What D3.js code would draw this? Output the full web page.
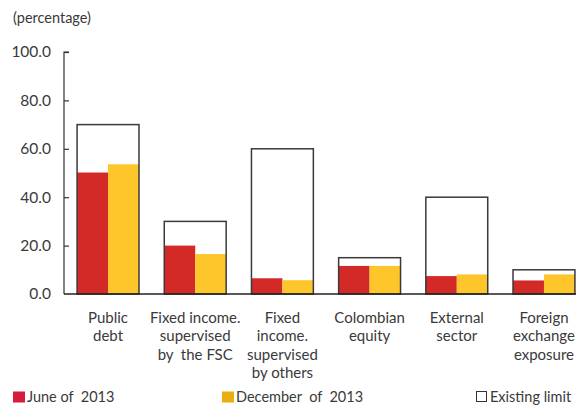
<!DOCTYPE html>
<html><head><meta charset="utf-8">
<script src="https://cdn.jsdelivr.net/npm/d3@7"></script>
<style>body{margin:0;background:#fff}svg{display:block}text{font-family:Lato,"Open Sans",sans-serif;fill:#3a3a3a;white-space:pre}</style>
</head><body><svg id="c" width="576" height="406"></svg>
<script>
const categories = [["Public","debt"],["Fixed income.","supervised","by  the FSC"],["Fixed","income.","supervised","by others"],["Colombian","equity"],["External","sector"],["Foreign","exchange","exposure"]];
const june2013 = [50.2, 20.0, 6.5, 11.6, 7.4, 5.6];
const dec2013 = [53.6, 16.5, 5.7, 11.6, 8.1, 8.1];
const limits = [70, 30, 60, 15, 40, 10];
const yTicks = [0, 20, 40, 60, 80, 100];
const seriesNames = ["June of  2013", "December  of  2013", "Existing limit"];

const svg = d3.select("#c");
const x = d3.scaleBand().domain(d3.range(categories.length)).range([64, 588]).paddingInner(0.29).paddingOuter(0.15);
const y = d3.scaleLinear().domain([0, 100]).range([294, 52]);
const half = x.bandwidth() / 2;

const g = svg.append("g");
g.selectAll(".r").data(june2013).join("rect")
  .attr("x", (d, i) => x(i)).attr("width", half)
  .attr("y", d => y(d)).attr("height", d => y(0) - y(d)).attr("fill", "#D42A27");
g.selectAll(".yb").data(dec2013).join("rect")
  .attr("x", (d, i) => x(i) + half).attr("width", half)
  .attr("y", d => y(d)).attr("height", d => y(0) - y(d)).attr("fill", "#FEC62B");
g.selectAll(".l").data(limits).join("rect")
  .attr("x", (d, i) => x(i)).attr("width", x.bandwidth())
  .attr("y", d => y(d)).attr("height", d => y(0) - y(d))
  .attr("fill", "none").attr("stroke", "#3a3a3a").attr("stroke-width", 1.5);

const yAxis = d3.axisRight(y).tickValues(yTicks).tickSize(5).tickFormat(d3.format(".1f"));
const ya = svg.append("g").attr("transform", "translate(64,0)").call(yAxis);
ya.select(".domain").attr("stroke", "#333").attr("stroke-width", 1.2).attr("d", "M5,52H0V294");
ya.selectAll(".tick line").attr("stroke", "#333").attr("stroke-width", 1.2);
ya.selectAll(".tick text").attr("x", -13).attr("text-anchor", "end").attr("font-size", 15.5).attr("fill", "#3a3a3a").attr("font-family", "Lato, sans-serif");
ya.selectAll(".tick").filter(d => d === 0).select("line").remove();

svg.append("line").attr("x1", 64).attr("x2", 576).attr("y1", y(0)).attr("y2", y(0)).attr("stroke", "#222").attr("stroke-width", 1.5);

svg.append("text").attr("x", 13).attr("y", 23).attr("font-size", 14.5).text("(percentage)");

categories.forEach((lines, i) => {
  const t = svg.append("text").attr("text-anchor", "middle").attr("font-size", 15);
  lines.forEach((ln, j) => {
    t.append("tspan").attr("x", x(i) + x.bandwidth() / 2).attr("y", 323 + j * 18.4).text(ln);
  });
});

const leg = [{x: 13, fill: "#D51E3A", stroke: "none"}, {x: 222, fill: "#E9AE0F", stroke: "none"}, {x: 476, fill: "#fff", stroke: "#333"}];
leg.forEach((l, i) => {
  svg.append("rect").attr("x", l.x + (i === 2 ? 0.5 : 0)).attr("y", 391.5).attr("width", i === 2 ? 10 : 12).attr("height", i === 2 ? 10 : 11)
    .attr("fill", l.fill).attr("stroke", l.stroke).attr("stroke-width", 1);
  svg.append("text").attr("x", l.x + 14).attr("y", 402).attr("font-size", 14.5).text(seriesNames[i]);
});
</script></body></html>
